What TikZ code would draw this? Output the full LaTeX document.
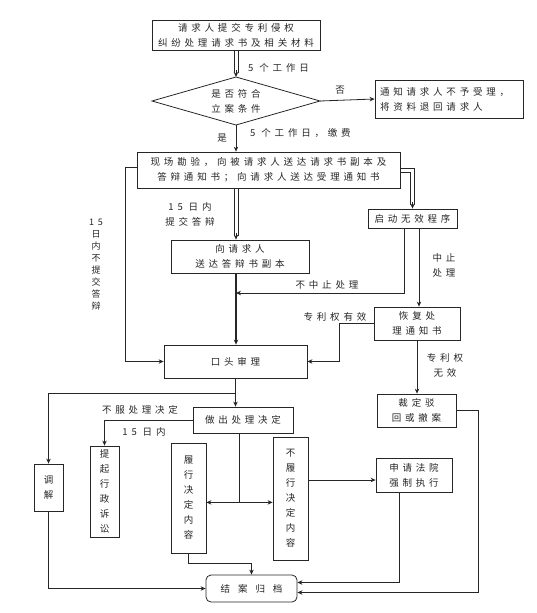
\documentclass[tikz,border=0pt]{standalone}
\usepackage{fontspec}
\setmainfont{Noto Sans CJK SC}[LetterSpace=40]
\usetikzlibrary{arrows.meta,calc}
\begin{document}
\begin{tikzpicture}[x=1pt,y=-1pt,
  every node/.style={font=\fontsize{9.5}{15}\selectfont, text=black!85},
  box/.style={draw=black!85, line width=0.8pt, inner sep=0pt, align=center, fill=white},
  ln/.style={draw=black!85, line width=0.8pt},
  thk/.style={draw=black!85, line width=1.6pt},
  arr/.style={ln, -{Stealth[length=5pt,width=4.5pt]}},
  tarr/.style={thk, -{Stealth[length=5pt,width=4.5pt]}},
  lbl/.style={inner sep=0pt, align=center}
]
\useasboundingbox (0,0) rectangle (537,613);

% nodes
\node[box, minimum width=168pt, minimum height=30pt] (b1) at (236,35) {请求人提交专利侵权\\纠纷处理请求书及相关材料};
\coordinate (dT) at (236,77);
\coordinate (dB) at (236,125);
\coordinate (dL) at (152,101);
\coordinate (dR) at (320,101);
\draw[ln] (dL) -- (dT) -- (dR) -- (dB) -- cycle;
\node[lbl] (dtext) at (236,101) {是否符合\\立案条件};
\node[box, minimum width=148pt, minimum height=38pt, text width=138pt, align=left] (b2) at (449,99) {通知请求人不予受理，\\将资料退回请求人};
\node[box, minimum width=263pt, minimum height=36pt] (b3) at (268.5,170) {现场勘验，向被请求人送达请求书副本及\\答辩通知书；向请求人送达受理通知书};
\node[box, minimum width=138pt, minimum height=33pt] (b4) at (240,256.5) {向请求人\\送达答辩书副本};
\node[box, minimum width=89pt, minimum height=19pt] (b6) at (412.5,218.5) {启动无效程序};
\node[box, minimum width=86pt, minimum height=33pt] (b7) at (417,323.5) {恢复处\\理通知书};
\node[box, minimum width=143pt, minimum height=33pt] (b5) at (235.5,361.5) {口头审理};
\node[box, minimum width=79pt, minimum height=33pt] (b8) at (416.5,410.5) {裁定驳\\回或撤案};
\node[box, minimum width=100pt, minimum height=26pt] (b9) at (243,420) {做出处理决定};
\node[box, minimum width=29pt, minimum height=47pt] (b10) at (48.5,487.5) {调\\解};
\node[box, minimum width=29pt, minimum height=91pt] (b11) at (104.5,491.5) {提\\起\\行\\政\\诉\\讼};
\node[box, minimum width=35pt, minimum height=110pt] (b12) at (188.5,498) {履\\行\\决\\定\\内\\容};
\node[box, minimum width=35pt, minimum height=123pt] (b13) at (290.5,498.5) {不\\履\\行\\决\\定\\内\\容};
\node[box, minimum width=76pt, minimum height=34pt] (b14) at (414,475) {申请法院\\强制执行};
\node[box, minimum width=91pt, minimum height=27pt, rounded corners=5pt] (b15) at (251.5,588.5) {结\hspace{8pt}案\hspace{8pt}归\hspace{8pt}档};

% 1: b1 -> diamond (double)
\draw[ln] ([xshift=-2pt]b1.south) -- ([xshift=-2pt,yshift=4pt]dT);
\draw[ln] ([xshift=2pt]b1.south) -- ([xshift=2pt,yshift=4pt]dT);
\draw[arr] ([yshift=7pt]dT) -- (dT);
\node[lbl, anchor=west] (l1) at (248,68) {5 个工作日};
% 2: no
\draw[arr] (dR) -- (b2.west);
\node[lbl] (l2) at (340,90) {否};
% 3: yes
\draw[arr] (dB) -- (dB |- b3.north);
\node[lbl] (l3) at (222,138) {是};
\node[lbl, anchor=west] (l4) at (250,133) {5 个工作日，缴费};
% 4: b3 -> b4 (double)
\coordinate (c4a) at (b3.south -| b1.south);
\coordinate (c4b) at (b4.north -| b1.south);
\draw[ln] ([xshift=-2pt]c4a) -- ([xshift=-2pt,yshift=4pt]c4b);
\draw[ln] ([xshift=2pt]c4a) -- ([xshift=2pt,yshift=4pt]c4b);
\draw[arr] ([yshift=7pt]c4b) -- (c4b);
\node[lbl] (l5) at (190,214) {15 日内\\提交答辩};
% 5: b3 -> b6 (double)
\draw[ln] ([yshift=2pt]b3.east) -| ([xshift=2pt,yshift=4pt]b6.north);
\draw[ln] ([yshift=-2pt]b3.east) -| ([xshift=-2pt,yshift=4pt]b6.north);
\draw[arr] ([yshift=7pt]b6.north) -- (b6.north);
% 6: not suspended
\coordinate (s6a) at ([xshift=-8.5pt]b6.south);
\coordinate (j1) at (236,293);
\draw[arr] (s6a) |- (j1);
\node[lbl] (l6) at (327,285) {不中止处理};
% 7: suspended
\draw[arr] ([xshift=6.5pt]b6.south) -- ([xshift=6.5pt]b6.south |- b7.north);
\node[lbl] (l7) at (444,265) {中止\\处理};
% 8: b4 -> b5
\draw[tarr] (b4.south -| b1.south) -- (b5.north -| b1.south);
% 9: no reply in 15 days
\draw[arr] ([yshift=3pt]b3.west) -- ++(-11,0) |- (b5.west);
\node[lbl, font=\fontsize{9}{12}\selectfont] (l8) at (96,265) {15\\日\\内\\不\\提\\交\\答\\辩};
% 10: patent valid
\draw[arr] (b7.west) -- ++(-34,0) |- (b5.east);
\node[lbl] (l9) at (335,317) {专利权有效};
% 11: patent invalid
\draw[arr] (b7.south) -- (b7.south |- b8.north);
\node[lbl] (l10) at (445,365) {专利权\\无效};
% 12: b5 -> b9
\draw[tarr] (b5.south) -- (b5.south |- b9.north);
% 13: mediation
\coordinate (j2) at ($(b5.south)+(0,15)$);
\draw[arr] (j2) -| (b10.north);
% 14: appeal
\draw[arr] (b9.west) -| (b11.north);
\node[lbl] (l11) at (140,410) {不服处理决定};
\node[lbl] (l12) at (144,432) {15 日内};
% 15: perform / not perform
\coordinate (j3t) at ([xshift=-4pt]b9.south);
\coordinate (j3) at ($(j3t)+(0,69)$);
\draw[ln] (j3t) -- (j3);
\draw[arr] (j3) -- (j3 -| b12.east);
\draw[arr] (j3) -- (j3 -| b13.west);
% 16: enforcement
\draw[arr] (b13.east |- 0,480) -- (b14.west |- 0,480);
% 17-20: to archive
\draw[arr] (b12.south) -- ++(0,10) -| (b15.north);
\draw[arr] (b10.south) |- (b15.west);
\draw[arr] ([xshift=-15pt]b14.south) |- ([yshift=6pt]b15.east);
\draw[arr] (b8.east) -- ++(22,0) |- ([yshift=-4pt]b15.east);
\end{tikzpicture}
\end{document}
